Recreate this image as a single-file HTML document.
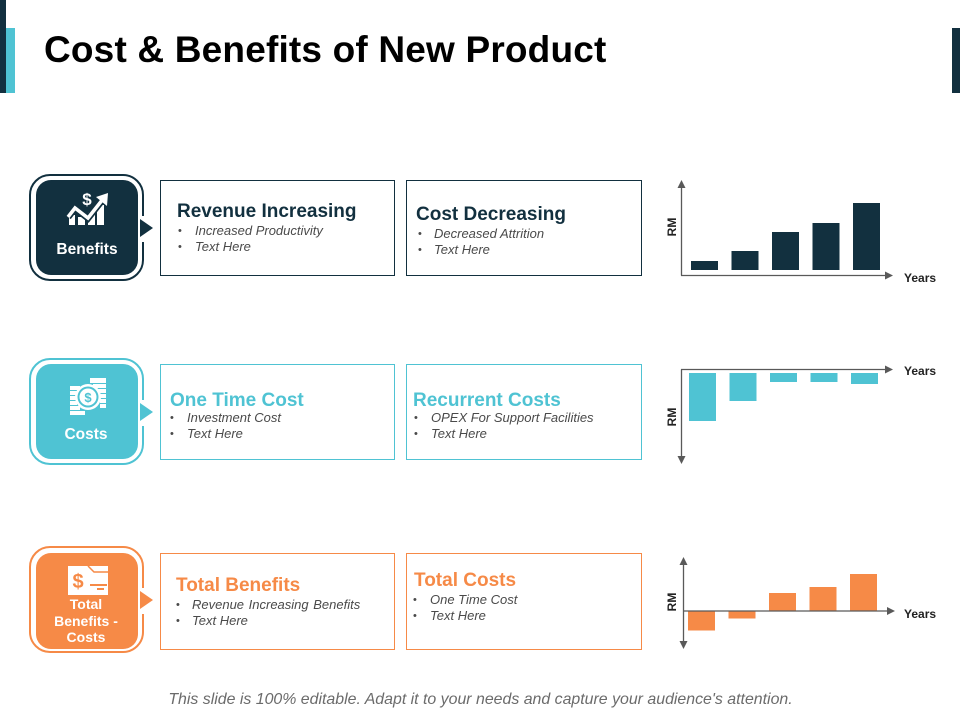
<!DOCTYPE html>
<html lang="en">
<head>
<meta charset="utf-8">
<title>Cost &amp; Benefits of New Product</title>
<style>
html,body{margin:0;padding:0;background:#fff}
#slide{position:relative;width:960px;height:720px;overflow:hidden;background:#fff;font-family:"Liberation Sans",sans-serif}
.abs{position:absolute}
.title{left:44px;top:29px;font-size:37px;line-height:42px;font-weight:700;color:#000;white-space:nowrap;letter-spacing:.18px}
.frame{box-sizing:border-box;position:absolute;left:29px;width:115px;height:107px;border:2px solid;border-radius:21px;background:#fff}
.tile{box-sizing:border-box;position:absolute;left:36px;width:102px;border-radius:15px;color:#fff;text-align:center;font-weight:700;font-size:15.5px;line-height:16.5px}
.notch{position:absolute;left:139px;width:15px;height:26px;background:#fff}
.tri{position:absolute;left:140px;width:0;height:0;border-left:13px solid;border-top:9.5px solid transparent;border-bottom:9.5px solid transparent}
.card{box-sizing:border-box;position:absolute;border:1px solid;background:#fff}
.head{position:absolute;font-size:19px;line-height:22px;font-weight:700;white-space:nowrap}
.item{position:absolute;font-size:13px;line-height:16px;font-style:italic;color:#4a4a4a;white-space:nowrap}
.dot{position:absolute;font-size:11px;line-height:16px;color:#4a4a4a}
.footer{left:0;top:690px;width:961px;text-align:center;font-size:15.9px;line-height:20px;font-style:italic;color:#6b6b6b;white-space:nowrap}
svg{position:absolute;left:0;top:0}
</style>
</head>
<body>
<div id="slide">
  <div class="abs" style="left:0;top:0;width:6px;height:93px;background:#12303f"></div>
  <div class="abs" style="left:6px;top:28px;width:9px;height:65px;background:#4fc3d3"></div>
  <div class="abs" style="left:952px;top:28px;width:8px;height:65px;background:#12303f"></div>
  <div class="abs title">Cost &amp; Benefits of New Product</div>

  <!-- Row 1 -->
  <div class="frame" style="top:174px;border-color:#12303f"></div>
  <div class="notch" style="top:216px"></div>
  <div class="tile" style="top:180px;height:95px;background:#12303f">
    <div class="abs" style="left:0;width:102px;top:62px">Benefits</div>
  </div>
  <div class="tri" style="top:219px;border-left-color:#12303f"></div>
  <svg width="960" height="720" style="pointer-events:none">
    <g fill="#fff">
      <rect x="69" y="215" width="6" height="10"/><rect x="78" y="217" width="7" height="8"/><rect x="88" y="212" width="7" height="13"/><rect x="97" y="205" width="7" height="20"/>
    </g>
    <polyline points="68,217 75,208 88,218 103,199" fill="none" stroke="#12303f" stroke-width="7"/>
    <polyline points="68,217 75,208 88,218 103,199" fill="none" stroke="#fff" stroke-width="3.5"/>
    <polygon points="108,193 107,206 96,197" fill="#fff"/>
    <text x="87" y="205" font-size="17" font-weight="700" fill="#fff" text-anchor="middle" font-family="Liberation Sans, sans-serif">$</text>
  </svg>

  <div class="card" style="left:160px;top:180px;width:235px;height:96px;border-color:#12303f">
    <div class="head" style="left:16px;top:20px;color:#12303f">Revenue Increasing</div>
    <div class="dot" style="left:17px;top:42px">•</div><div class="item" style="left:34px;top:42px">Increased Productivity</div>
    <div class="dot" style="left:17px;top:58px">•</div><div class="item" style="left:34px;top:58px">Text Here</div>
  </div>
  <div class="card" style="left:406px;top:180px;width:236px;height:96px;border-color:#12303f">
    <div class="head" style="left:9px;top:23px;color:#12303f">Cost Decreasing</div>
    <div class="dot" style="left:11px;top:45px">•</div><div class="item" style="left:27px;top:45px">Decreased Attrition</div>
    <div class="dot" style="left:11px;top:61px">•</div><div class="item" style="left:27px;top:61px">Text Here</div>
  </div>

  <!-- Row 2 -->
  <div class="frame" style="top:358px;border-color:#4fc3d3"></div>
  <div class="notch" style="top:400px"></div>
  <div class="tile" style="top:364px;height:95px;background:#4fc3d3">
    <div class="abs" style="left:0;width:100px;top:63px">Costs</div>
  </div>
  <div class="tri" style="top:403px;border-left-color:#4fc3d3"></div>
  <svg width="960" height="720" style="pointer-events:none">
    <g fill="#fff">
      <rect x="90" y="378" width="16" height="5"/><rect x="93" y="384" width="13" height="4"/><rect x="98" y="389" width="8" height="4"/><rect x="100" y="394" width="6" height="4"/><rect x="100" y="399" width="6" height="4"/><rect x="100" y="404" width="6" height="4"/>
      <rect x="70" y="386" width="10" height="4"/><rect x="70" y="391" width="7" height="4"/><rect x="70" y="396" width="6" height="4"/><rect x="70" y="401" width="7" height="4"/><rect x="70" y="406" width="10" height="4"/><rect x="70" y="411" width="15" height="4"/>
      <circle cx="88" cy="397" r="13"/>
    </g>
    <circle cx="88" cy="397" r="10.5" fill="#4fc3d3"/>
    <circle cx="88" cy="397" r="8.5" fill="#fff"/>
    <text x="88" y="402" font-size="13" font-weight="700" fill="#4fc3d3" text-anchor="middle" font-family="Liberation Sans, sans-serif">$</text>
  </svg>
  <div class="card" style="left:160px;top:364px;width:235px;height:96px;border-color:#4fc3d3">
    <div class="head" style="left:9px;top:25px;color:#4fc3d3">One Time Cost</div>
    <div class="dot" style="left:9px;top:45px">•</div><div class="item" style="left:26px;top:45px">Investment Cost</div>
    <div class="dot" style="left:9px;top:61px">•</div><div class="item" style="left:26px;top:61px">Text Here</div>
  </div>
  <div class="card" style="left:406px;top:364px;width:236px;height:96px;border-color:#4fc3d3">
    <div class="head" style="left:6px;top:25px;color:#4fc3d3">Recurrent Costs</div>
    <div class="dot" style="left:7px;top:45px">•</div><div class="item" style="left:24px;top:45px">OPEX For Support Facilities</div>
    <div class="dot" style="left:7px;top:61px">•</div><div class="item" style="left:24px;top:61px">Text Here</div>
  </div>

  <!-- Row 3 -->
  <div class="frame" style="top:546px;border-color:#f68a47"></div>
  <div class="notch" style="top:588px"></div>
  <div class="tile" style="top:553px;height:96px;background:#f68a47;font-size:14px">
    <div class="abs" style="left:0;width:100px;top:43px">Total<br>Benefits -<br>Costs</div>
  </div>
  <div class="tri" style="top:591px;border-left-color:#f68a47"></div>
  <svg width="960" height="720" style="pointer-events:none">
    <rect x="68" y="566" width="40" height="29" fill="#fff"/>
    <polyline points="88,566 94,572 108,572" fill="none" stroke="#f68a47" stroke-width="1.5"/>
    <text x="78" y="588" font-size="20" font-weight="700" fill="#f68a47" text-anchor="middle" font-family="Liberation Sans, sans-serif">$</text>
    <rect x="90" y="584" width="17" height="2" fill="#f68a47"/>
    <rect x="97" y="588" width="7" height="2" fill="#f68a47"/>
  </svg>
  <div class="card" style="left:160px;top:553px;width:235px;height:97px;border-color:#f68a47">
    <div class="head" style="left:15px;top:21px;color:#f68a47">Total Benefits</div>
    <div class="dot" style="left:15px;top:43px">•</div><div class="item" style="left:31px;top:43px;word-spacing:1px">Revenue Increasing Benefits</div>
    <div class="dot" style="left:15px;top:59px">•</div><div class="item" style="left:31px;top:59px">Text Here</div>
  </div>
  <div class="card" style="left:406px;top:553px;width:236px;height:97px;border-color:#f68a47">
    <div class="head" style="left:7px;top:16px;color:#f68a47">Total Costs</div>
    <div class="dot" style="left:6px;top:38px">•</div><div class="item" style="left:23px;top:38px">One Time Cost</div>
    <div class="dot" style="left:6px;top:54px">•</div><div class="item" style="left:23px;top:54px">Text Here</div>
  </div>

  <svg id="charts" width="960" height="720"></svg>

  <div class="abs footer">This slide is 100% editable. Adapt it to your needs and capture your audience's attention.</div>
</div>

<script>
var categories = ["Year 1", "Year 2", "Year 3", "Year 4", "Year 5"];
var benefitsValues = [9, 19, 38, 47, 67];
var costsValues = [-48, -28, -9, -9, -11];
var netValues = [-19, -7, 18.5, 24.5, 37.5];
var xAxisTitle = "Years";
var yAxisTitle = "RM";

var NS = "http://www.w3.org/2000/svg";
var chartsSvg = document.getElementById("charts");

function make(tag, attrs) {
  var el = document.createElementNS(NS, tag);
  for (var k in attrs) { el.setAttribute(k, attrs[k]); }
  chartsSvg.appendChild(el);
  return el;
}
function bandX(cfg, i) { return cfg.barStart + i * cfg.barStep; }
function valueY(cfg, v) { return cfg.zeroY - v * cfg.pxPerUnit; }

function axisArrow(x1, y1, x2, y2, name) {
  var line = make("line", { x1: x1, y1: y1, x2: x2, y2: y2, stroke: "#595959", "stroke-width": 1.3 });
  
  
  var dx = Math.sign(x2 - x1), dy = Math.sign(y2 - y1);
  var pts = [x2 + dx * 8, y2 + dy * 8, x2 + dy * 4, y2 + dx * 4, x2 - dy * 4, y2 - dx * 4].join(",");
  var head = make("polygon", { points: pts, fill: "#595959" });
  
  
}
function label(text, x, y, rotate, name) {
  var attrs = { x: x, y: y, "font-size": 12, "font-weight": 700, fill: "#222", "font-family": "Liberation Sans, sans-serif" };
  if (rotate) { attrs.transform = "rotate(-90 " + x + " " + y + ")"; attrs["text-anchor"] = "middle"; }
  var t = make("text", attrs);
  t.textContent = text;
  
  
}
function drawChart(values, cfg) {
  values.forEach(function (v, i) {
    var y0 = valueY(cfg, 0), y1 = valueY(cfg, v);
    var bar = make("rect", {
      x: bandX(cfg, i), y: Math.min(y0, y1), width: cfg.barWidth,
      height: Math.abs(y1 - y0), fill: cfg.color
    });
    
    
    var tip = document.createElementNS(NS, "title");
    tip.textContent = categories[i];
    bar.appendChild(tip);
  });
  var a = cfg.axes;
  axisArrow(a.xFromX, a.xY, a.xToX, a.xY, cfg.name + '-x-axis');
  a.yLines.forEach(function (l, n) {
    axisArrow(a.yX, l[0], a.yX, l[1], cfg.name + '-y-axis' + (n ? '-lower' : ''));
  });
  label(xAxisTitle, a.xLabelX, a.xLabelY, false, cfg.name + '-x-axis-title');
  label(yAxisTitle, a.yLabelX, a.yLabelY, true, cfg.name + '-y-axis-title');
}

drawChart(benefitsValues, {
  name: "benefits-chart", color: "#12303f", barStart: 691, barStep: 40.5, barWidth: 27, zeroY: 270, pxPerUnit: 1,
  axes: { xFromX: 681, xToX: 885, xY: 275.5, yX: 681.5, yLines: [[275.5, 188]], xLabelX: 904, xLabelY: 282, yLabelX: 676, yLabelY: 227 }
});
drawChart(costsValues, {
  name: "costs-chart", color: "#4fc3d3", barStart: 689, barStep: 40.5, barWidth: 27, zeroY: 373, pxPerUnit: 1,
  axes: { xFromX: 681, xToX: 885, xY: 369.5, yX: 681.5, yLines: [[369.5, 456]], xLabelX: 904, xLabelY: 375, yLabelX: 676, yLabelY: 417 }
});
drawChart(netValues, {
  name: "net-chart", color: "#f68a47", barStart: 688, barStep: 40.5, barWidth: 27, zeroY: 611.5, pxPerUnit: 1,
  axes: { xFromX: 684, xToX: 887, xY: 611, yX: 683.5, yLines: [[611, 565], [611, 641]], xLabelX: 904, xLabelY: 618, yLabelX: 676, yLabelY: 602 }
});
</script>
</body>
</html>
